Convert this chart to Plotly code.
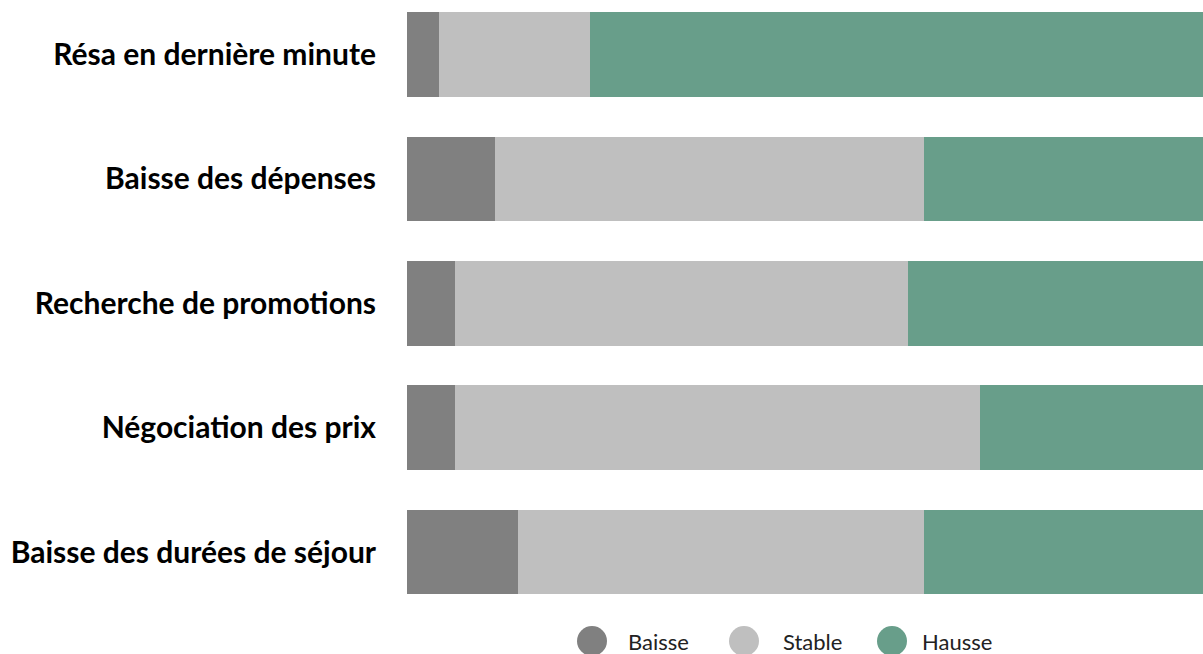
import plotly.graph_objects as go

categories = ["Résa en dernière minute", "Baisse des dépenses", "Recherche de promotions",
              "Négociation des prix", "Baisse des durées de séjour"]
series_names = ["Baisse", "Stable", "Hausse"]
baisse = [4, 11, 6, 6, 14]
stable = [19, 54, 57, 66, 51]
hausse = [77, 35, 37, 28, 35]
colors = ["#808080", "#bfbfbf", "#689e8a"]

W, H = 1203, 654
L, R, T, B = 407, 0, 0, 44
pw, ph = W - L - R, H - T - B

fig = go.Figure()
for name, vals, col in zip(series_names, [baisse, stable, hausse], colors):
    fig.add_trace(go.Bar(y=categories, x=vals, name=name, orientation="h",
                         marker=dict(color=col, line=dict(width=0)), showlegend=False,
                         hoverinfo="x+name"))

# manual legend with large circles
leg_circle_x = [592, 744, 892]
leg_text_x = [626, 781, 920]
leg_y = 641
r = 15
for name, col, cx, tx in zip(series_names, colors, leg_circle_x, leg_text_x):
    fig.add_shape(type="circle", xref="paper", yref="paper",
                  x0=(cx - r - L) / pw, x1=(cx + r - L) / pw,
                  y0=(ph - (leg_y + r - T)) / ph, y1=(ph - (leg_y - r - T)) / ph,
                  fillcolor=col, line=dict(width=0))
    fig.add_annotation(text=name, xref="paper", yref="paper", x=(tx - L) / pw,
                       y=(ph - (leg_y - T)) / ph, xanchor="left", yanchor="middle",
                       showarrow=False, font=dict(family="Lato", size=22, color="#222"))

fig.update_layout(
    barmode="stack", bargap=0.32,
    width=W, height=H, margin=dict(l=L, r=R, t=T, b=B),
    paper_bgcolor="white", plot_bgcolor="white",
    xaxis=dict(range=[0, 100], visible=False, fixedrange=True),
    yaxis=dict(type="category", range=[4.466, -0.438], showgrid=False, zeroline=False,
               showline=False, ticks="", ticklabelstandoff=30,
               tickfont=dict(family="Lato", size=30, color="#000", weight="bold"),
               fixedrange=True),
    font=dict(family="Lato"),
    showlegend=False,
)
fig.write_html("out.html", config={"displayModeBar": False},
               post_script="document.body.style.margin='0px';document.body.style.overflow='hidden';")
